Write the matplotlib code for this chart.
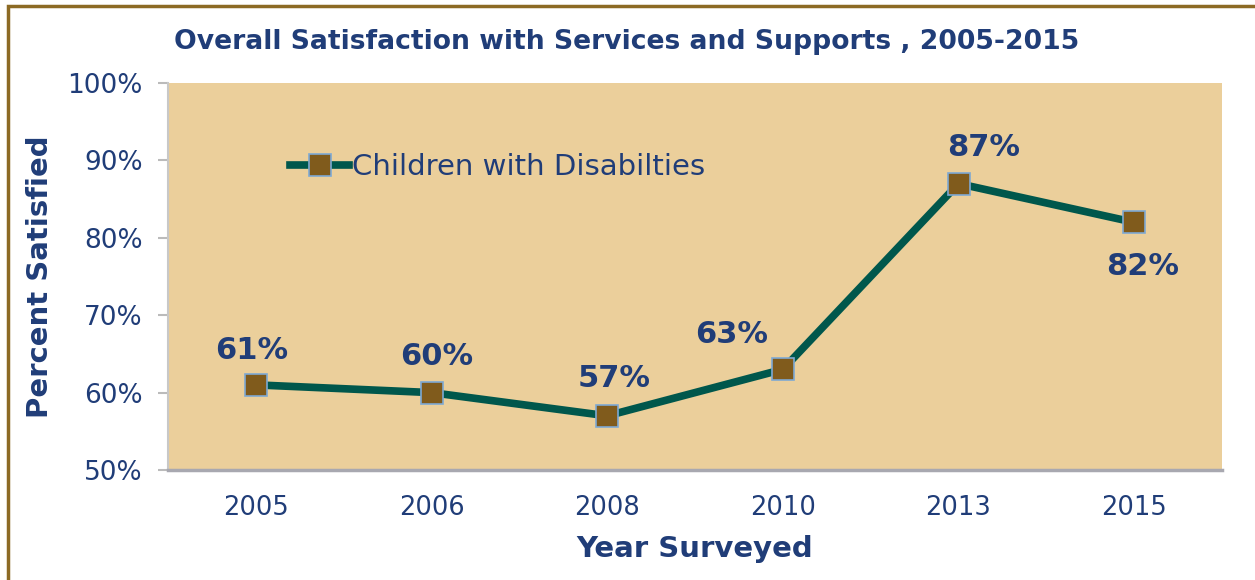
import matplotlib.pyplot as plt
from matplotlib.patches import Rectangle

# data
years = ['2005', '2006', '2008', '2010', '2013', '2015']
satisfied = [61, 60, 57, 63, 87, 82]
series_name = 'Children with Disabilties'
yticks = [50, 60, 70, 80, 90, 100]

navy = '#203D78'
teal = '#00574C'
brown = '#805B1C'

fig = plt.figure(figsize=(12.55, 5.8), dpi=100)
ax = fig.add_axes([168/1255, 1 - 470/580, 1054/1255, 387/580])
ax.set_facecolor('#EBCF9B')

x = list(range(len(years)))
ax.plot(x, satisfied, color=teal, linewidth=5.5, marker='s', markersize=16,
        markerfacecolor=brown, markeredgecolor='#7EA9D3', markeredgewidth=1.2,
        label=series_name, zorder=3)

# data labels (offsets in points), placed like the excel labels
offsets = [(-3, 25), (4, 26), (5, 27), (-37, 25), (18, 26), (6, -32)]
for xi, v, (dx, dy) in zip(x, satisfied, offsets):
    ax.annotate(f'{v}%', (xi, v), xytext=(dx, dy), textcoords='offset points',
                ha='center', va='center', fontsize=22, fontweight='bold', color=navy)

ax.set_xlim(-0.5, len(years) - 0.5)
ax.set_ylim(50, 100)
ax.set_xticks(x)
ax.set_xticklabels(years)
ax.set_yticks(yticks)
ax.set_yticklabels([f'{t}%' for t in yticks])
ax.tick_params(axis='y', colors='#BBBBBB', labelcolor=navy, labelsize=19,
               length=7, width=1.5, pad=11)
ax.tick_params(axis='x', length=0, labelcolor=navy, labelsize=18.5, pad=18)

for s in ['top', 'right']:
    ax.spines[s].set_visible(False)
ax.spines['left'].set_color('#C8C8C8')
ax.spines['left'].set_linewidth(1.5)
ax.spines['bottom'].set_color('#A8A8B0')
ax.spines['bottom'].set_linewidth(2.5)

ax.set_ylabel('Percent Satisfied', fontsize=21, fontweight='bold', color=navy, labelpad=10)
ax.set_xlabel('Year Surveyed', fontsize=21, fontweight='bold', color=navy, labelpad=10)

ax.legend(loc='center left', bbox_to_anchor=(0.105, 0.783), frameon=False,
          fontsize=21, labelcolor=navy, handlelength=2.0, handletextpad=0.1,
          borderaxespad=0)

fig.text(627/1255, 1 - 42/580, 'Overall Satisfaction with Services and Supports , 2005-2015',
         ha='center', va='center', fontsize=19.2, fontweight='bold', color=navy)

# outer frame, cut off at right and bottom like the reference
fig.patches.append(Rectangle((8/1255, -0.05), 1.2, 1 - 6/580 + 0.05,
                             transform=fig.transFigure, fill=False,
                             edgecolor='#8C6A24', linewidth=2.5))

fig.savefig('out.png', dpi=100)
